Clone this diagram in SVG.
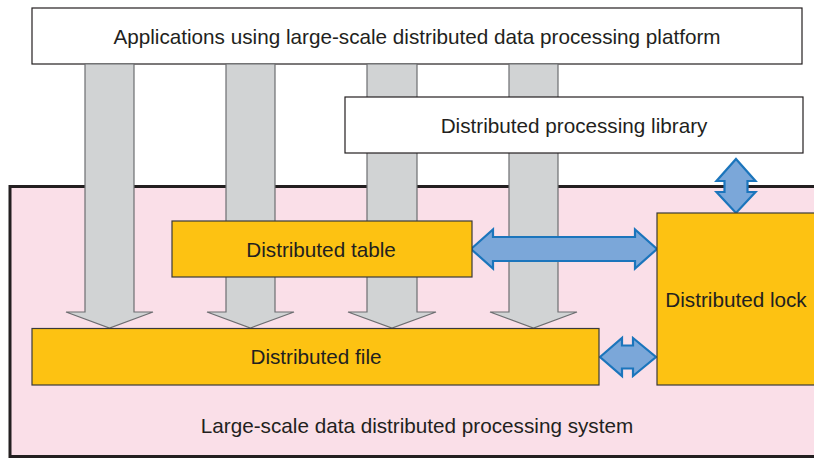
<svg xmlns="http://www.w3.org/2000/svg" width="814" height="459" viewBox="0 0 814 459">
  <style>
    text { font-family: "Liberation Sans", Arial, sans-serif; font-size: 20.7px; fill: #231f20; text-anchor: middle; }
    .white { fill: #ffffff; stroke: #231f20; stroke-width: 1.2; }
    .orange { fill: #fdc212; stroke: #3a3a3a; stroke-width: 1.2; }
    .flow { fill: #d1d3d4; stroke: #6d6e71; stroke-width: 1.2; }
    .link { fill: #7ba7d9; stroke: #1b75bc; stroke-width: 2.2; stroke-linejoin: miter; }
  </style>

  <!-- system container -->
  <g id="system">
    <rect x="10" y="186.5" width="820" height="270" fill="#fadfe8" stroke="#231f20" stroke-width="3"/>
    <text x="417" y="433">Large-scale data distributed processing system</text>
  </g>

  <!-- application platform -->
  <g id="applications">
    <rect class="white" x="32" y="8" width="770" height="56"/>
    <text x="417" y="43.5">Applications using large-scale distributed data processing platform</text>
  </g>

  <!-- downward data flows from applications -->
  <g id="connectors">
    <polygon class="flow" points="85,64 134,64 134,312 153,312 109.5,328 66,312 85,312"/>
    <polygon class="flow" points="226,64 275,64 275,312 294,312 250.5,328 207,312 226,312"/>
    <polygon class="flow" points="367,64 417,64 417,312 436,312 392,328 348,312 367,312"/>
    <polygon class="flow" points="509,64 558,64 558,312 577,312 533.5,328 490,312 509,312"/>

    <!-- table <-> lock -->
    <polygon class="link" points="471,249 493,229.5 493,237 635,237 635,229.5 657,249 635,268.5 635,261 493,261 493,268.5"/>
    <!-- library <-> lock -->
    <polygon class="link" points="736,159 755.5,181 747.5,181 747.5,192 755.5,192 736,213 716.5,192 724.5,192 724.5,181 716.5,181"/>
    <!-- file <-> lock -->
    <polygon class="link" points="600,357 622,338 622,345.5 633,345.5 633,338 656,357 633,376 633,368.5 622,368.5 622,376"/>
  </g>

  <g id="library">
    <rect class="white" x="345" y="97" width="458" height="56"/>
    <text x="574" y="132.5">Distributed processing library</text>
  </g>

  <g id="table">
    <rect class="orange" x="172" y="221" width="300" height="56"/>
    <text x="321" y="256.5">Distributed table</text>
  </g>

  <g id="file">
    <rect class="orange" x="32" y="328.5" width="567" height="56.5"/>
    <text x="316" y="364">Distributed file</text>
  </g>

  <g id="lock">
    <rect class="orange" x="657" y="213" width="170" height="172"/>
    <text x="736" y="307">Distributed lock</text>
  </g>
</svg>
